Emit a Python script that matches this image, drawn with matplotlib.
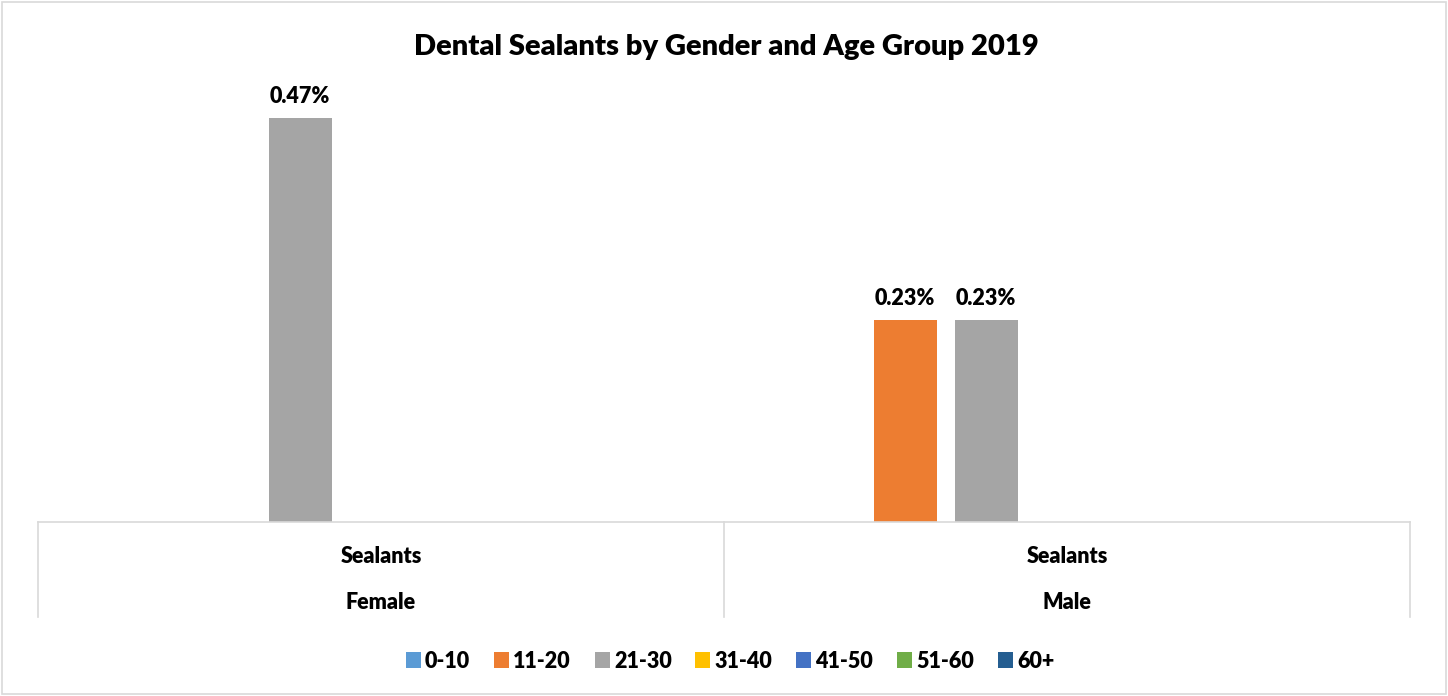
import matplotlib.pyplot as plt
from matplotlib.patches import Rectangle
import numpy as np

plt.rcParams['font.family'] = ['Lato', 'DejaVu Sans']

genders = ["Female", "Male"]
measure = "Sealants"
age_groups = ["0-10", "11-20", "21-30", "31-40", "41-50", "51-60", "60+"]
colors = ["#5B9BD5", "#ED7D31", "#A5A5A5", "#FFC000", "#4472C4", "#70AD47", "#255E91"]
# percent of patients per age group, Female / Male
values = {
    "0-10": [0.0, 0.0],
    "11-20": [0.0, 0.2326],
    "21-30": [0.4651, 0.2326],
    "31-40": [0.0, 0.0],
    "41-50": [0.0, 0.0],
    "51-60": [0.0, 0.0],
    "60+": [0.0, 0.0],
}

W, H = 1448, 696
fig = plt.figure(figsize=(W / 100, H / 100), dpi=100)
# light border round the chart
fig.patches.append(Rectangle((2 / W, 2 / H), 1 - 4 / W, 1 - 4 / H, transform=fig.transFigure,
                             fill=False, edgecolor="#d9d9d9", linewidth=1.2))

ax = fig.add_axes([38 / W, (H - 522) / H, (1410 - 38) / W, (522 - 88) / H])

bar_w = 63 / 686
step = 81 / 686
x = np.arange(len(genders))
for i, grp in enumerate(age_groups):
    pos = x + (i - 3) * step
    vals = values[grp]
    ax.bar(pos, vals, width=bar_w, color=colors[i], label=grp)
    for p, v in zip(pos, vals):
        if v > 0:
            ax.text(p, v + 0.013, f"{v:.2f}%", ha="center", va="bottom",
                    fontsize=15.5, fontweight="heavy")

ax.set_xlim(-0.5, 1.5)
ax.set_ylim(0, 0.5)
ax.set_yticks([])
ax.set_xticks([])
for s in ["top", "right", "left"]:
    ax.spines[s].set_visible(False)
ax.spines["bottom"].set_color("#d9d9d9")
ax.spines["bottom"].set_linewidth(1.2)

# two-level category axis
tr = ax.get_xaxis_transform()
for xi, g in zip(x, genders):
    ax.text(xi, -0.08, measure, transform=tr, ha="center", va="center",
            fontsize=15.5, fontweight="heavy")
    ax.text(xi, -0.186, g, transform=tr, ha="center", va="center",
            fontsize=15.5, fontweight="heavy")
for xb in [-0.5, 0.5, 1.5]:
    ax.plot([xb, xb], [0, -0.219], transform=tr, color="#d9d9d9", lw=1.2, clip_on=False)

fig.text(726 / W, 1 - 47 / H, "Dental Sealants by Gender and Age Group 2019",
         ha="center", va="center", fontsize=21, fontweight="heavy")

fig.legend(loc="center", bbox_to_anchor=(730 / W, 1 - 661 / H), ncol=7, frameon=False,
           prop={"weight": "heavy", "size": 15.5}, handlelength=0.7, handleheight=0.7,
           handletextpad=0.2, columnspacing=1.1)

fig.savefig("out.png", dpi=100)
